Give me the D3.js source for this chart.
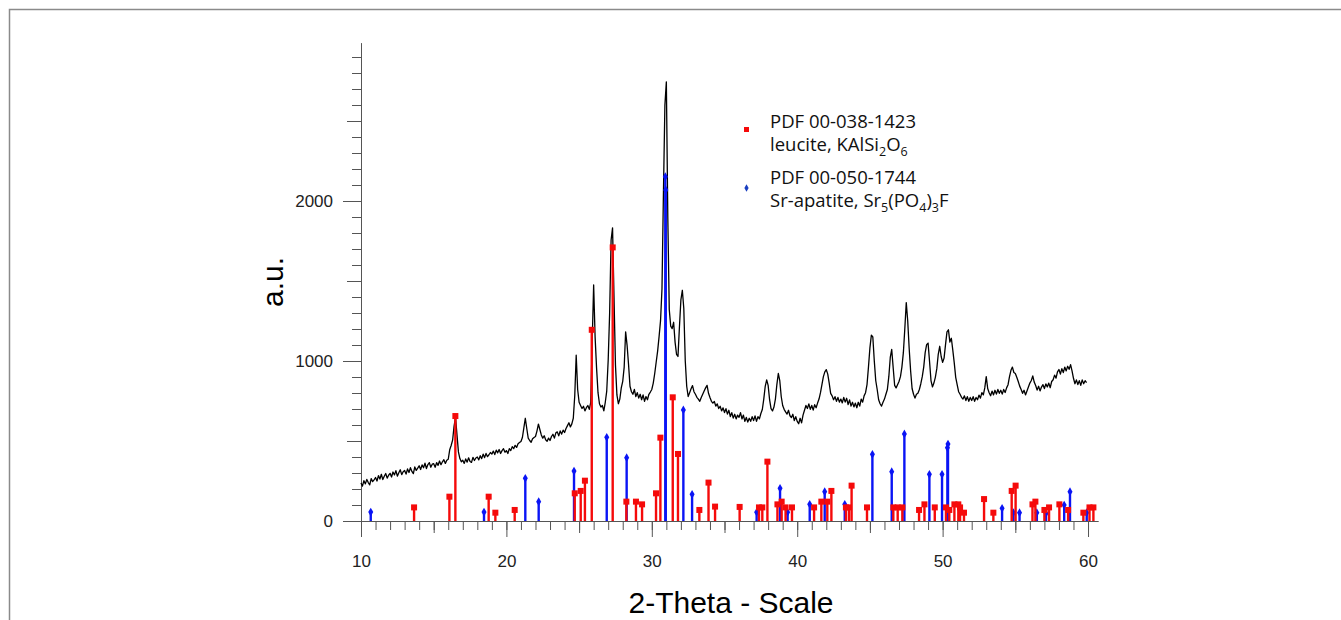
<!DOCTYPE html>
<html>
<head>
<meta charset="utf-8">
<script src="https://cdn.jsdelivr.net/npm/d3@7"></script>
<style>
  body { margin: 0; background: #fff; }
  .tick text { font-family: "Liberation Sans", Arial, sans-serif; font-size: 17px; fill: #222; }
  .tick line, .domain { stroke: #555; }
</style>
</head>
<body>
<svg id="chart"></svg>
<script>
// measured pattern: 2-theta 10.0 .. 59.9, step 0.1
const thetaStart = 10.0;
const thetaStep = 0.1;
const counts = [
  238, 218, 252, 232, 260, 240, 226, 265, 246, 257,
  272, 250, 284, 262, 292, 259, 280, 297, 268, 286,
  298, 275, 306, 288, 315, 280, 302, 320, 290, 308,
  316, 293, 325, 303, 333, 310, 296, 338, 316, 330,
  345, 322, 351, 333, 361, 328, 353, 365, 336, 355,
  358, 336, 365, 348, 375, 352, 370, 383, 360, 380,
  386, 445, 472, 505, 592, 648, 540, 432, 390, 370,
  380, 360, 388, 368, 395, 372, 366, 398, 378, 394,
  400, 382, 408, 390, 418, 396, 422, 402, 414, 428,
  418, 437, 415, 443, 426, 447, 422, 440, 452, 430,
  440, 422, 452, 440, 465, 452, 473, 460, 483, 490,
  497, 522, 582, 642, 578, 518, 503, 492, 514, 522,
  528, 562, 606, 572, 538, 518, 533, 508, 498, 518,
  503, 528, 542, 518, 551, 557, 532, 563, 543, 568,
  553, 578, 596, 614, 588, 607, 642, 782, 1036, 822,
  742, 722, 703, 717, 688, 708, 722, 698, 742, 1120,
  1475, 1150, 958, 802, 733, 712, 722, 688, 742, 812,
  1005, 1300, 1755, 1832, 1400, 975, 788, 733, 762, 832,
  872, 962, 1182, 1098, 978, 842, 808, 792, 822, 778,
  802, 768, 792, 758, 788, 748, 778, 758, 792, 806,
  822, 862, 922, 992, 1062, 1152, 1252, 1452, 2052, 2600,
  2745, 1900, 1322, 1218, 1202, 1242, 1118, 1042, 1028, 1212,
  1382, 1442, 1328, 1002, 842, 778, 802, 826, 846, 808,
  792, 773, 762, 748, 772, 792, 812, 832, 848, 798,
  772, 748, 737, 747, 718, 732, 703, 717, 688, 707,
  678, 702, 668, 692, 653, 677, 643, 667, 638, 662,
  648, 677, 638, 662, 623, 647, 618, 642, 623, 652,
  628, 657, 623, 652, 638, 672, 697, 762, 842, 882,
  848, 758, 702, 688, 712, 762, 852, 922, 878, 778,
  722, 698, 682, 668, 692, 658, 647, 667, 628, 652,
  623, 608, 642, 613, 662, 692, 722, 703, 732, 698,
  722, 693, 727, 708, 737, 762, 802, 852, 902, 932,
  946, 918, 862, 798, 782, 758, 777, 748, 772, 743,
  762, 738, 772, 743, 767, 728, 757, 718, 742, 713,
  737, 708, 742, 718, 762, 743, 782, 802, 852, 962,
  1082, 1162, 1150, 1002, 878, 822, 758, 733, 718, 742,
  762, 792, 822, 902, 1022, 1072, 958, 848, 832, 852,
  872, 902, 962, 1052, 1202, 1365, 1250, 1078, 938, 828,
  792, 768, 792, 798, 822, 858, 902, 962, 1052, 1102,
  1112, 998, 878, 838, 862, 898, 952, 1042, 1092, 1028,
  992, 1018, 1102, 1182, 1195, 1118, 1142, 1068, 988, 898,
  852, 808, 792, 773, 762, 782, 753, 777, 748, 772,
  753, 777, 748, 772, 758, 787, 768, 802, 788, 832,
  902, 828, 802, 783, 812, 788, 817, 793, 822, 798,
  817, 793, 822, 803, 832, 852, 902, 942, 962, 928,
  922, 898, 872, 843, 822, 798, 817, 788, 812, 837,
  862, 878, 907, 868, 847, 818, 842, 813, 837, 852,
  828, 857, 838, 862, 833, 872, 883, 912, 893, 932,
  947, 918, 952, 928, 962, 938, 967, 948, 977, 938,
  892, 858, 882, 853, 877, 848, 882, 858, 877, 865
];

// PDF 00-038-1423 leucite
const leuciteTheta = [13.65, 16.08, 16.49, 18.78, 19.24, 20.57, 24.70, 25.11, 25.40, 25.87,
  27.31, 28.25, 28.91, 29.33, 30.29, 30.59, 31.44, 31.80, 33.27, 33.90, 34.35, 36.04, 37.37,
  37.60, 37.95, 38.64, 38.93, 39.20, 39.64, 41.16, 41.66, 42.07, 42.35, 43.35, 43.56, 43.74,
  44.80, 46.61, 46.91, 47.23, 48.38, 48.75, 49.46, 50.23, 50.46, 50.81, 51.08, 51.20, 51.47,
  52.85, 53.49, 54.75, 55.02, 56.18, 56.38, 57.00, 57.32, 58.03, 58.63, 59.68, 60.10, 60.37];
const leuciteInt = [85, 152, 656, 152, 52, 69, 173, 188, 252, 1195,
  1710, 121, 121, 104, 173, 521, 773, 419, 69, 240, 90, 88, 85,
  85, 371, 104, 121, 85, 85, 85, 121, 121, 188, 85, 85, 221,
  85, 85, 85, 85, 69, 104, 85, 85, 69, 104, 104, 85, 52,
  137, 52, 188, 221, 104, 121, 69, 85, 104, 69, 52, 85, 85];

// PDF 00-050-1744 Sr-apatite
const apatiteTheta = [10.67, 18.46, 21.30, 22.22, 24.65, 26.90, 28.27, 30.93, 30.96, 32.17,
  32.77, 37.21, 38.82, 39.34, 40.86, 41.89, 43.27, 45.17, 46.50, 47.37, 49.09, 49.96, 50.33,
  50.37, 54.09, 54.87, 55.29, 56.48, 57.11, 58.36, 58.76, 59.91];
const apatiteInt = [56, 56, 267, 121, 312, 523, 396, 2152, 2069, 694,
  167, 55, 204, 54, 104, 183, 104, 417, 308, 544, 292, 292, 458,
  481, 79, 52, 52, 52, 47, 100, 183, 52];

const xLabelTicks = [10, 20, 30, 40, 50, 60];
const yLabelTicks = [0, 1000, 2000];

const svg = d3.select("#chart").attr("width", 1341).attr("height", 620);

// frame
svg.append("path")
  .attr("d", "M9.5,620 V9.5 H1341")
  .attr("fill", "none")
  .attr("stroke", "#8a8a8a")
  .attr("stroke-width", 1.5);

const x = d3.scaleLinear().domain([10, 60.7]).range([361, 1098.2]);
const y = d3.scaleLinear().domain([0, 2990]).range([521, 42.6]);

// y axis: minor / mid / major ticks
svg.append("g")
  .attr("transform", `translate(${x(10)},0)`)
  .call(d3.axisLeft(y).tickValues(d3.range(0, 3000, 100)).tickSize(9).tickSizeOuter(0).tickFormat(""));
svg.append("g")
  .attr("transform", `translate(${x(10)},0)`)
  .call(d3.axisLeft(y).tickValues(d3.range(0, 3000, 500)).tickSize(14).tickFormat(""))
  .select(".domain").remove();
svg.append("g")
  .attr("transform", `translate(${x(10)},0)`)
  .call(d3.axisLeft(y).tickValues(yLabelTicks).tickSize(18).tickPadding(10).tickFormat(d3.format("d")))
  .select(".domain").remove();

// x axis
svg.append("g")
  .attr("transform", `translate(0,${y(0)})`)
  .call(d3.axisBottom(x).tickValues(d3.range(10, 61, 1)).tickSize(9).tickSizeOuter(0).tickFormat(""));
svg.append("g")
  .attr("transform", `translate(0,${y(0)})`)
  .call(d3.axisBottom(x).tickValues(d3.range(15, 61, 10)).tickSize(12).tickFormat(""))
  .select(".domain").remove();
svg.append("g")
  .attr("transform", `translate(0,${y(0)})`)
  .call(d3.axisBottom(x).tickValues(xLabelTicks).tickSize(16).tickPadding(18).tickFormat(d3.format("d")))
  .select(".domain").remove();

// measured curve
const line = d3.line()
  .x((d, i) => x(thetaStart + i * thetaStep))
  .y(d => y(d));

svg.append("path")
  .datum(counts)
  .attr("d", line)
  .attr("fill", "none")
  .attr("stroke", "#000")
  .attr("stroke-width", 1.3)
  .attr("stroke-linejoin", "round");

// reference sticks
const apatite = apatiteTheta.map((t, i) => ({ t: t, v: apatiteInt[i] }));
const leucite = leuciteTheta.map((t, i) => ({ t: t, v: leuciteInt[i] }));

svg.append("g").selectAll("line")
  .data(apatite)
  .enter()
  .append("line")
  .attr("x1", d => x(d.t)).attr("x2", d => x(d.t))
  .attr("y1", y(0)).attr("y2", d => y(d.v))
  .attr("stroke", "#0a14f5")
  .attr("stroke-width", 2.4);

svg.append("g").selectAll("path")
  .data(apatite)
  .enter()
  .append("path")
  .attr("d", d3.symbol(d3.symbolDiamond, 22))
  .attr("transform", d => `translate(${x(d.t)},${y(d.v)})`)
  .attr("fill", "#0a14f5");

svg.append("g").selectAll("line")
  .data(leucite)
  .enter()
  .append("line")
  .attr("x1", d => x(d.t)).attr("x2", d => x(d.t))
  .attr("y1", y(0)).attr("y2", d => y(d.v))
  .attr("stroke", "#f50a0a")
  .attr("stroke-width", 2.4);

svg.append("g").selectAll("rect")
  .data(leucite)
  .enter()
  .append("rect")
  .attr("x", d => x(d.t) - 3)
  .attr("y", d => y(d.v) - 3)
  .attr("width", 6)
  .attr("height", 6)
  .attr("fill", "#f50a0a");

// axis titles
svg.append("text")
  .attr("transform", "translate(283,282) rotate(-90)")
  .attr("text-anchor", "middle")
  .style("font-family", "Liberation Sans, Arial, sans-serif")
  .style("font-size", "30px")
  .text("a.u.");

svg.append("text")
  .attr("x", 731)
  .attr("y", 613)
  .attr("text-anchor", "middle")
  .style("font-family", "Liberation Sans, Arial, sans-serif")
  .style("font-size", "30px")
  .text("2-Theta - Scale");

// legend
const legend = svg.append("g")
  .style("font-family", "Open Sans, sans-serif")
  .style("font-size", "18.5px")
  .style("fill", "#111");

legend.append("rect")
  .attr("x", 744).attr("y", 127).attr("width", 5).attr("height", 5)
  .attr("fill", "#f50a0a");
legend.append("path")
  .attr("d", d3.symbol(d3.symbolDiamond, 16))
  .attr("transform", "translate(746.5,188)")
  .attr("fill", "#1a3fc0");

legend.append("text").attr("x", 770).attr("y", 128).text("PDF 00-038-1423");
const l2 = legend.append("text").attr("x", 770).attr("y", 151);
l2.append("tspan").text("leucite, KAlSi");
l2.append("tspan").attr("dy", 5).style("font-size", "12.5px").text("2");
l2.append("tspan").attr("dy", -5).text("O");
l2.append("tspan").attr("dy", 5).style("font-size", "12.5px").text("6");

legend.append("text").attr("x", 770).attr("y", 184).text("PDF 00-050-1744");
const l4 = legend.append("text").attr("x", 770).attr("y", 207);
l4.append("tspan").text("Sr-apatite, Sr");
l4.append("tspan").attr("dy", 5).style("font-size", "12.5px").text("5");
l4.append("tspan").attr("dy", -5).text("(PO");
l4.append("tspan").attr("dy", 5).style("font-size", "12.5px").text("4");
l4.append("tspan").attr("dy", -5).text(")");
l4.append("tspan").attr("dy", 5).style("font-size", "12.5px").text("3");
l4.append("tspan").attr("dy", -5).text("F");
</script>
</body>
</html>
